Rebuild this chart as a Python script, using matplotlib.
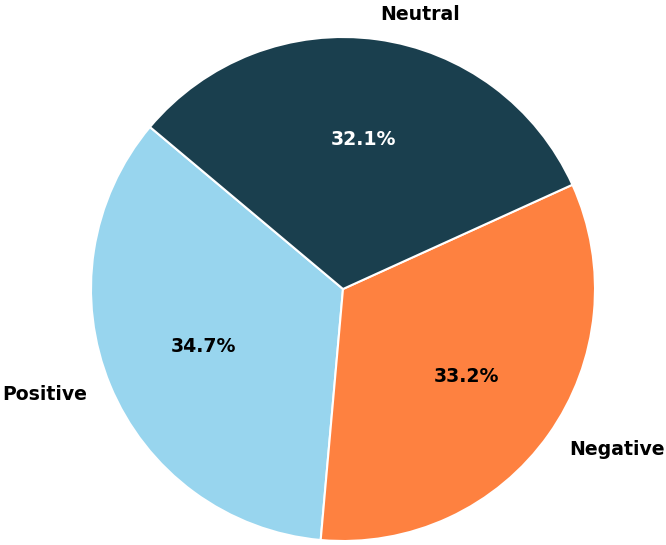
import matplotlib
matplotlib.use("Agg")
import matplotlib.pyplot as plt

labels = ["Positive", "Negative", "Neutral"]
values = [34.7, 33.2, 32.1]
colors = ["#98d5ee", "#fe8140", "#1a3f4e"]
pct_colors = ["black", "black", "white"]

fig = plt.figure(figsize=(6.66, 5.45), dpi=100)
ax = fig.add_axes([0, 0, 1, 1])
wedges, texts, autotexts = ax.pie(
    values, labels=labels, colors=colors, startangle=140,
    autopct="%1.1f%%", pctdistance=0.6, labeldistance=1.1,
    wedgeprops=dict(edgecolor="white", linewidth=1.5),
    textprops=dict(fontsize=13.6, fontweight="bold"),
)
for t, c in zip(autotexts, pct_colors):
    t.set_color(c)
ax.set_xlim(-343 / 252, (666 - 343) / 252)
ax.set_ylim(-256 / 252, (545 - 256) / 252)
ax.axis("off")
fig.savefig("out.png", dpi=100)
